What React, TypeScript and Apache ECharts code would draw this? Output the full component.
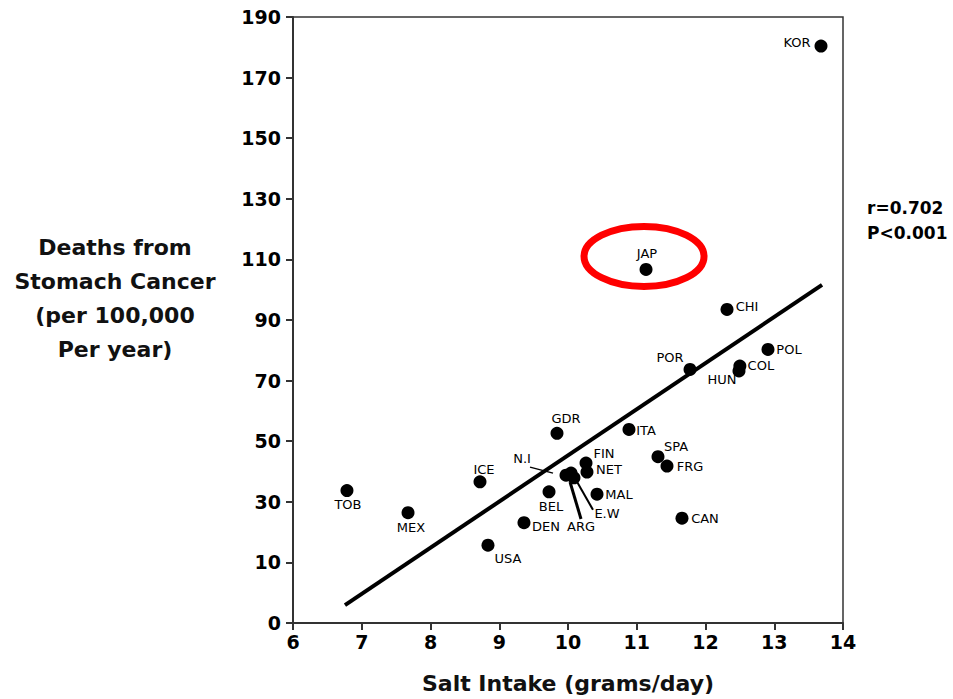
import React, { useEffect, useRef } from "react";
import * as echarts from "echarts";

// ---- data ----
const countries = ["TOB", "MEX", "ICE", "USA", "DEN", "BEL", "GDR", "N.I", "ARG", "E.W", "FIN", "NET", "MAL", "ITA", "SPA", "FRG", "CAN", "JAP", "POR", "CHI", "HUN", "COL", "POL", "KOR"];
const saltIntake = [6.785, 7.673, 8.72, 8.836, 9.36, 9.724, 9.84, 9.971, 10.044, 10.087, 10.262, 10.276, 10.422, 10.887, 11.309, 11.44, 11.658, 11.135, 11.775, 12.313, 12.487, 12.5, 12.909, 13.68];
const deaths = [33.7, 26.4, 36.6, 15.7, 23.1, 33.3, 52.6, 38.8, 39.5, 37.9, 42.8, 39.8, 32.5, 53.9, 44.9, 41.8, 24.6, 106.7, 73.7, 93.5, 73.2, 74.8, 80.3, 180.4];

// regression line end points
const trendX = [6.756, 13.695];
const trendY = [-4.1, 101.6];

const xTicks = [6, 7, 8, 9, 10, 11, 12, 13, 14];
const yTickValues = [-10, 10, 30, 50, 70, 90, 110, 130, 150, 170, 190];
const yTickLabels = ["0", "10", "30", "50", "70", "90", "110", "130", "150", "170", "190"];

const xTitle = "Salt Intake (grams/day)";
const yTitle = "Deaths from\nStomach Cancer\n(per 100,000\nPer year)";
const statsText = "r=0.702\nP<0.001";
const highlighted = "JAP";

// ---- label layout (pixel offsets from each dot centre) ----
const labelOffsets: Record<string, [number, number]> = {
  KOR: [-24, -4], JAP: [1, -16], CHI: [20, -3], POR: [-20, -12], HUN: [-17, 9], COL: [21, -1],
  POL: [21, 0], ITA: [17, 1], GDR: [9, -15], FIN: [18, -10], NET: [22, -3], SPA: [18, -10],
  FRG: [23, 0], MAL: [22, 0], CAN: [23, 0], ICE: [4, -12], TOB: [1, 14], MEX: [3, 15],
  USA: [20, 13], DEN: [22, 4], BEL: [2, 15], "N.I": [-44, -17], ARG: [10, 53], "E.W": [33, 36],
};
// leader lines: [from dx, from dy, to dx, to dy, width]
const leaders: Record<string, number[]> = {
  "N.I": [-13, -2, -36, -8, 1.5],
  ARG: [-1, 9, 10, 46, 3],
  "E.W": [3, 4, 19, 32, 2],
};

const FONT = "'DejaVu Sans', 'Liberation Sans', Arial, sans-serif";

export default function App() {
  const ref = useRef<HTMLDivElement>(null);
  useEffect(() => {
    if (!ref.current) return;
    const chart = echarts.init(ref.current, null, { renderer: "svg" });

    const points = countries.map((c, i) => ({
      name: c,
      value: [saltIntake[i], deaths[i]],
      label: {
        show: true,
        position: "inside",
        offset: labelOffsets[c] || [0, -12],
        formatter: c,
        color: "#000",
        fontSize: 13,
        fontFamily: FONT,
      },
    }));

    const leaderData = Object.keys(leaders).map((c) => {
      const i = countries.indexOf(c);
      return [saltIntake[i], deaths[i], ...leaders[c]];
    });
    const japIdx = countries.indexOf(highlighted);

    chart.setOption({
      animation: false,
      backgroundColor: "#fff",
      grid: {
        left: 293,
        right: 110,
        top: 17,
        bottom: 76,
        show: true,
        borderColor: "#333",
        borderWidth: 1.5,
        backgroundColor: "transparent",
      },
      xAxis: {
        type: "value",
        min: 6,
        max: 14,
        interval: 1,
        name: xTitle,
        nameLocation: "middle",
        nameGap: 49,
        nameTextStyle: { fontFamily: FONT, fontSize: 22, fontWeight: "bold", color: "#111" },
        axisLine: { show: true, onZero: false, lineStyle: { color: "#333", width: 2 } },
        axisTick: { show: true, length: 7, lineStyle: { color: "#333", width: 2 } },
        axisLabel: {
          fontFamily: FONT,
          fontSize: 19,
          fontWeight: "bold",
          color: "#000",
          margin: 9,
          formatter: (v: number) => (xTicks.includes(v) ? String(v) : ""),
        },
        splitLine: { show: false },
      },
      yAxis: {
        type: "value",
        min: -10,
        max: 190,
        axisLine: { show: true, onZero: false, lineStyle: { color: "#333", width: 2 } },
        axisTick: { show: true, length: 7, customValues: yTickValues, lineStyle: { color: "#333", width: 2 } },
        axisLabel: {
          customValues: yTickValues,
          fontFamily: FONT,
          fontSize: 19,
          fontWeight: "bold",
          color: "#000",
          margin: 12,
          formatter: (v: number) => {
            const k = yTickValues.indexOf(v);
            return k >= 0 ? yTickLabels[k] : "";
          },
        },
        splitLine: { show: false },
      },
      series: [
        {
          type: "line",
          data: trendX.map((x, i) => [x, trendY[i]]),
          symbol: "none",
          lineStyle: { color: "#000", width: 4 },
          z: 2,
        },
        {
          type: "custom",
          renderItem: (params: any, api: any) => {
            const p = api.coord([api.value(0), api.value(1)]);
            return {
              type: "line",
              shape: { x1: p[0] + api.value(2), y1: p[1] + api.value(3), x2: p[0] + api.value(4), y2: p[1] + api.value(5) },
              style: { stroke: "#000", lineWidth: api.value(6) },
            };
          },
          data: leaderData,
          z: 3,
        },
        {
          type: "scatter",
          data: points,
          symbol: "circle",
          symbolSize: 13,
          itemStyle: { color: "#000", opacity: 1 },
          z: 4,
        },
        {
          type: "custom",
          renderItem: (params: any, api: any) => {
            const p = api.coord([api.value(0), api.value(1)]);
            return {
              type: "ellipse",
              shape: { cx: p[0] - 2, cy: p[1] - 13, rx: 60, ry: 30 },
              style: { fill: "none", stroke: "#ff0000", lineWidth: 7 },
            };
          },
          data: [[saltIntake[japIdx], deaths[japIdx]]],
          z: 5,
        },
      ],
      graphic: [
        {
          type: "text",
          x: 115,
          y: 298,
          style: {
            text: yTitle,
            fontFamily: FONT,
            fontSize: 22,
            fontWeight: "bold",
            lineHeight: 34,
            fill: "#111",
            align: "center",
            verticalAlign: "middle",
          },
        },
        {
          type: "text",
          x: 867,
          y: 220,
          style: {
            text: statsText,
            fontFamily: FONT,
            fontSize: 17,
            fontWeight: "bold",
            lineHeight: 25,
            fill: "#000",
            align: "left",
            verticalAlign: "middle",
          },
        },
      ],
    });
    return () => chart.dispose();
  }, []);
  return <div ref={ref} style={{ position: "fixed", left: 0, top: 0, width: 953, height: 699 }} />;
}
